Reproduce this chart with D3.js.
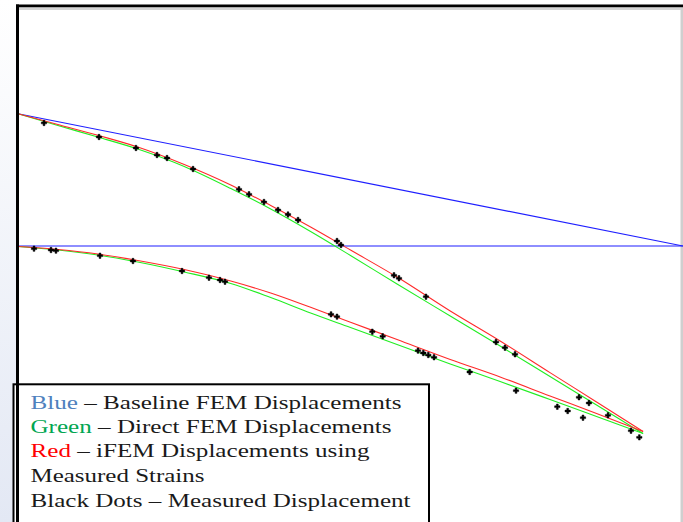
<!DOCTYPE html>
<html>
<head>
<meta charset="utf-8">
<script src="https://cdnjs.cloudflare.com/ajax/libs/d3/7.8.5/d3.min.js"></script>
<style>
  body { margin: 0; background: #fff; }
  svg { display: block; }
</style>
</head>
<body>
<script>
// Step 1: Data (span station vs. vertical position, arbitrary units)
//= ================================
var stations = [0, 6, 12, 18, 25, 32, 38, 44, 50, 57, 65, 72.5, 80, 87, 94];

var topRed = [79.13, 77.05, 74.94, 72.67, 69.28, 65.31, 61.34, 57.17, 52.71, 47.48, 40.89, 35.08, 28.95, 23.26, 17.54];
var topGreen = [79.13, 76.84, 74.61, 72.29, 68.90, 64.63, 60.66, 56.30, 51.65, 46.12, 39.92, 34.11, 28.20, 22.67, 17.15];
var bottomRed = [53.39, 52.81, 51.94, 50.68, 48.93, 46.71, 44.38, 41.61, 38.72, 35.35, 31.49, 28.10, 24.42, 21.03, 17.54];
var bottomGreen = [53.39, 52.71, 51.74, 50.39, 48.45, 46.22, 43.49, 40.50, 37.69, 34.40, 30.62, 27.23, 23.74, 20.45, 17.15];

// baseline FEM: straight lines across the whole span
var baseX = [0, 100];
var baseTop = [79.13, 53.49];
var baseBottom = [53.49, 53.49];

// measured displacements
var dotsTopX = [3.91, 12.18, 17.74, 20.90, 22.41, 26.32, 33.23, 34.74, 36.99, 39.10, 40.60, 42.11, 47.97, 48.57, 56.54, 57.29, 61.35, 71.88, 73.23, 74.74, 84.36, 85.86, 88.72, 92.18];
var dotsTopY = [77.33, 74.61, 72.48, 71.12, 70.54, 68.41, 64.48, 63.51, 62.02, 60.47, 59.59, 58.53, 54.46, 53.68, 47.81, 47.23, 43.66, 34.88, 33.78, 32.50, 24.17, 23.06, 20.68, 17.69];
var dotsBottomX = [2.41, 4.96, 5.71, 12.33, 17.29, 24.66, 28.72, 30.38, 31.13, 47.07, 47.97, 53.28, 54.84, 60.15, 60.95, 61.70, 62.56, 67.92, 74.89, 81.10, 82.66, 84.96, 93.43];
var dotsBottomY = [52.97, 52.71, 52.58, 51.61, 50.58, 48.64, 47.34, 46.90, 46.57, 40.25, 39.79, 36.88, 35.99, 33.20, 32.75, 32.36, 31.92, 29.07, 25.45, 22.34, 21.51, 20.21, 16.41];

var legendParts = [
  [["Blue", "#4f81bd"], [" \u2013 Baseline FEM Displacements", "#1a1a1a"]],
  [["Green", "#00a651"], [" \u2013 Direct FEM Displacements", "#1a1a1a"]],
  [["Red", "#ff0000"], [" \u2013 iFEM Displacements using", "#1a1a1a"]],
  [["Measured Strains", "#1a1a1a"]],
  [["Black Dots \u2013 Measured Displacement", "#1a1a1a"]]
];
var legendWidths = [371, 361, 339, 174, 380];

// Step 2: SVG and scales
//= ================================
var svgWidth = 683;
var svgHeight = 522;

var svg = d3.select("body")
  .append("svg")
  .attr("width", svgWidth)
  .attr("height", svgHeight);

var xScale = d3.scaleLinear().domain([0, 100]).range([18, 683]);
var yScale = d3.scaleLinear().domain([0, 100]).range([522, 6]);

// slide-like background on the left
var grad = svg.append("defs").append("linearGradient")
  .attr("id", "bg").attr("x1", 0).attr("y1", 0).attr("x2", 0).attr("y2", 1);
grad.append("stop").attr("offset", "0%").attr("stop-color", "#ffffff");
grad.append("stop").attr("offset", "100%").attr("stop-color", "#e3e8f4");

svg.append("rect").attr("width", svgWidth).attr("height", svgHeight).attr("fill", "url(#bg)");
svg.append("rect").attr("x", 16).attr("y", 4).attr("width", svgWidth - 16).attr("height", svgHeight).attr("fill", "#fff");

// frame shadow
svg.append("rect").attr("x", 19).attr("y", 7).attr("width", svgWidth - 19).attr("height", 3).attr("fill", "#d4d4d4");
svg.append("rect").attr("x", 680.5).attr("y", 7).attr("width", 2.5).attr("height", svgHeight).attr("fill", "#cfcfcf");

// Step 3: Lines
//= ================================
var line = d3.line()
  .x(d => xScale(d[0]))
  .y(d => yScale(d[1]))
  .curve(d3.curveMonotoneX);

function draw(xs, ys, color) {
  svg.append("path")
    .datum(xs.map((x, i) => [x, ys[i]]))
    .attr("d", line)
    .attr("fill", "none")
    .attr("stroke", color)
    .attr("stroke-width", 1.1);
}

draw(baseX, baseTop, "#1f1fff");
draw(baseX, baseBottom, "#1f1fff");
draw(stations, topGreen, "#22ee22");
draw(stations, bottomGreen, "#22ee22");
draw(stations, topRed, "#ff2a2a");
draw(stations, bottomRed, "#ff2a2a");

// Step 4: Measured dots
//= ================================
var dots = dotsTopX.map((x, i) => [x, dotsTopY[i]])
  .concat(dotsBottomX.map((x, i) => [x, dotsBottomY[i]]));

svg.append("g")
  .selectAll("path")
  .data(dots)
  .enter()
  .append("path")
  .attr("d", d3.symbol(d3.symbolCross, 16))
  .attr("transform", d => `translate(${xScale(d[0])}, ${yScale(d[1])})`)
  .attr("fill", "#000")
  .attr("stroke", "#000")
  .attr("stroke-width", 0.5);

// Step 5: Legend box
//= ================================
svg.append("rect")
  .attr("x", 13.5)
  .attr("y", 384.3)
  .attr("width", 415.5)
  .attr("height", 160)
  .attr("fill", "#fff")
  .attr("stroke", "#000")
  .attr("stroke-width", 2);

var baselines = [409, 433.3, 457.3, 482.3, 506.7];

legendParts.forEach(function(parts, i) {
  var t = svg.append("text")
    .attr("x", 30.5)
    .attr("y", baselines[i])
    .attr("font-family", "'Liberation Serif', 'Times New Roman', serif")
    .attr("font-size", "19.5px")
    .attr("textLength", legendWidths[i])
    .attr("lengthAdjust", "spacingAndGlyphs");
  parts.forEach(function(p) {
    t.append("tspan").attr("fill", p[1]).text(p[0]);
  });
});

// frame lines on top
svg.append("rect").attr("x", 16).attr("y", 4.5).attr("width", svgWidth - 16).attr("height", 2.7).attr("fill", "#000");
svg.append("rect").attr("x", 16).attr("y", 4.5).attr("width", 3).attr("height", svgHeight).attr("fill", "#000");
</script>
</body>
</html>
